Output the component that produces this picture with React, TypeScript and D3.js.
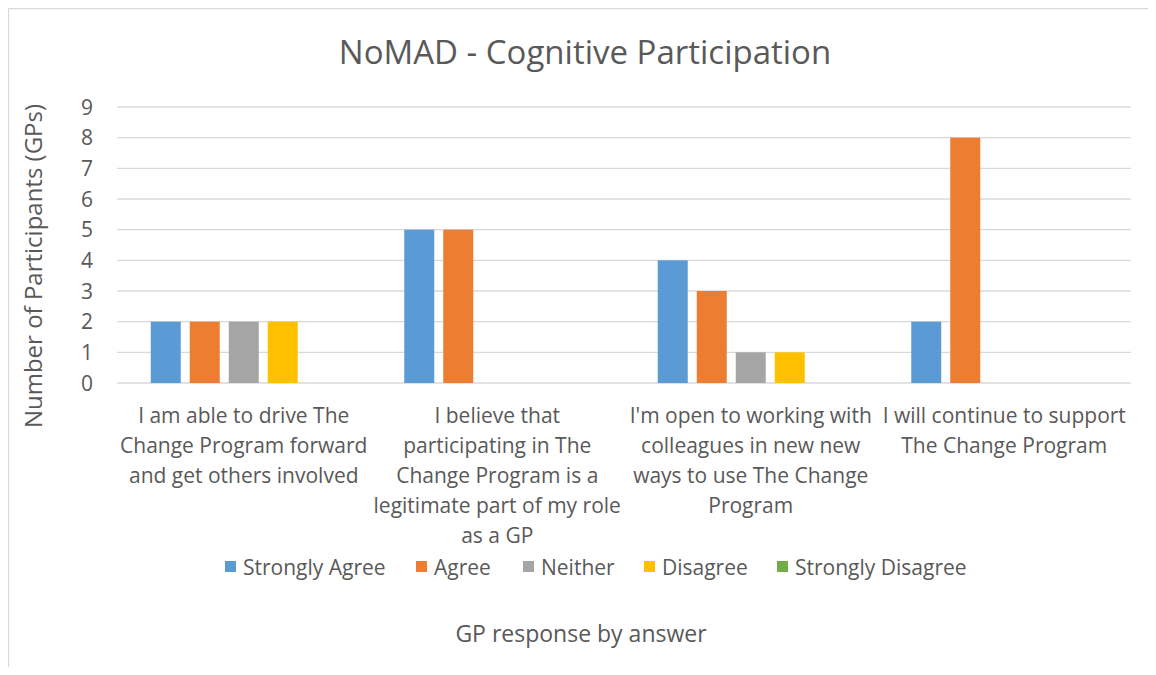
import React from "react";
import * as d3 from "d3";

const categories: string[][] = [
  ["I am able to drive The", "Change Program forward", "and get others involved"],
  ["I believe that", "participating in The", "Change Program is a", "legitimate part of my role", "as a GP"],
  ["I'm open to working with", "colleagues in new new", "ways to use The Change", "Program"],
  ["I will continue to support", "The Change Program"],
];
const seriesNames = ["Strongly Agree", "Agree", "Neither", "Disagree", "Strongly Disagree"];
const stronglyAgree = [2, 5, 4, 2];
const agree = [2, 5, 3, 8];
const neither = [2, 0, 1, 0];
const disagree = [2, 0, 1, 0];
const stronglyDisagree = [0, 0, 0, 0];
const yTicks = [0, 1, 2, 3, 4, 5, 6, 7, 8, 9];
const colors = ["#5B9BD5", "#ED7D31", "#A5A5A5", "#FFC000", "#70AD47"];

const seriesValues = [stronglyAgree, agree, neither, disagree, stronglyDisagree];

const FONT = "'Open Sans', Lato, sans-serif";
const TEXT = "#595959";

export default function App() {
  const left = 117, right = 1131, top = 107, bottom = 383;
  const catIdx = categories.map((_, i) => String(i));
  const x0 = d3.scaleBand<string>().domain(catIdx).range([left, right]).padding(0);
  const bw = x0.bandwidth();
  const step = 39;
  const inner = 9 / 39;
  const outer = (bw / step - (seriesNames.length - inner)) / 2;
  const x1 = d3
    .scaleBand<string>()
    .domain(seriesNames)
    .range([0, bw])
    .paddingInner(inner)
    .paddingOuter(outer);
  const y = d3.scaleLinear().domain([0, 9]).range([bottom, top]);

  const legendItems = [
    { sq: 225, tx: 243 },
    { sq: 416, tx: 434 },
    { sq: 523, tx: 541 },
    { sq: 644, tx: 662 },
    { sq: 777, tx: 795 },
  ];

  return (
    <svg width={1140} height={659} style={{ display: "block", overflow: "visible" }}>
      <g transform="translate(-8,-8)">
        <rect x={0} y={0} width={1156} height={675} fill="#fff" />
        <line x1={8.5} y1={8.5} x2={1170} y2={8.5} stroke="#d9d9d9" strokeWidth={1.3} />
        <line x1={8.5} y1={8.5} x2={8.5} y2={690} stroke="#d9d9d9" strokeWidth={1.3} />

        <text x={585} y={64} textAnchor="middle" fontFamily={FONT} fontSize={33} fill={TEXT}>
          NoMAD - Cognitive Participation
        </text>

        {yTicks.map((t) => (
          <g key={t}>
            <line x1={left} x2={right} y1={y(t)} y2={y(t)} stroke="#d9d9d9" strokeWidth={1.3} />
            <text x={93} y={y(t)} dy="0.36em" textAnchor="end" fontFamily={FONT} fontSize={21} fill={TEXT}>
              {t}
            </text>
          </g>
        ))}

        {seriesValues.map((vals, si) =>
          vals.map((v, ci) =>
            v > 0 ? (
              <rect
                key={`${si}-${ci}`}
                x={(x0(String(ci)) as number) + (x1(seriesNames[si]) as number)}
                y={y(v)}
                width={x1.bandwidth()}
                height={y(0) - y(v)}
                fill={colors[si]}
              />
            ) : null
          )
        )}

        {categories.map((lines, ci) => {
          const cx = (x0(String(ci)) as number) + bw / 2;
          return (
            <text key={ci} textAnchor="middle" fontFamily={FONT} fontSize={21} fill={TEXT}>
              {lines.map((ln, li) => (
                <tspan key={li} x={cx} y={423 + li * 30}>
                  {ln}
                </tspan>
              ))}
            </text>
          );
        })}

        <text
          transform={`translate(42,266) rotate(-90)`}
          textAnchor="middle"
          fontFamily={FONT}
          fontSize={24}
          fill={TEXT}
        >
          Number of Participants (GPs)
        </text>

        {seriesNames.map((name, i) => (
          <g key={name}>
            <rect x={legendItems[i].sq} y={561} width={11} height={11} fill={colors[i]} />
            <text x={legendItems[i].tx} y={567} dy="0.36em" fontFamily={FONT} fontSize={21} fill={TEXT}>
              {name}
            </text>
          </g>
        ))}

        <text x={581} y={642} textAnchor="middle" fontFamily={FONT} fontSize={23} fill={TEXT}>
          GP response by answer
        </text>
      </g>
    </svg>
  );
}
